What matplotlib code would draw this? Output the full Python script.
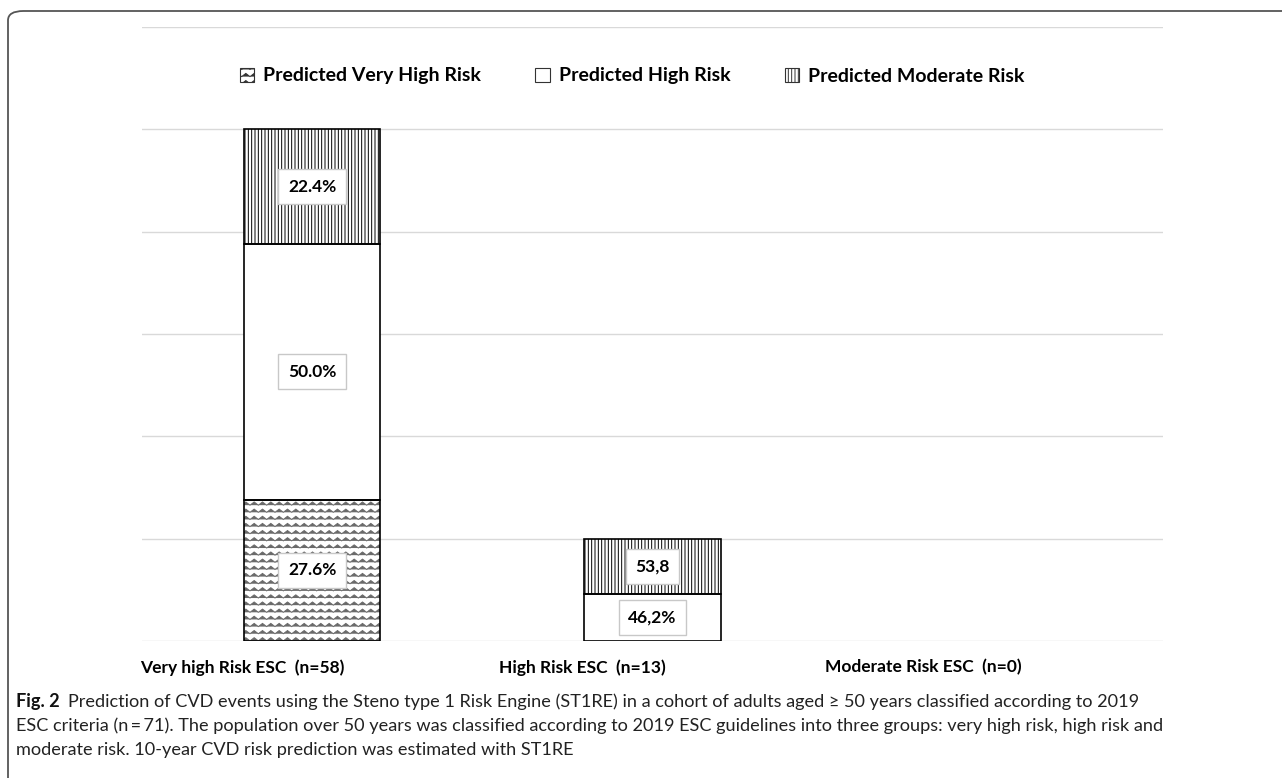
import numpy as np
import matplotlib
matplotlib.use("Agg")
import matplotlib.pyplot as plt
from matplotlib import hatch as mhatch
from matplotlib.path import Path
from matplotlib.patches import Patch, FancyBboxPatch
from matplotlib.transforms import ScaledTranslation
from matplotlib import font_manager as fm

# ---------------- data ----------------
categories = ["Very high Risk ESC  (n=58)", "High Risk ESC  (n=13)", "Moderate Risk ESC  (n=0)"]
series_names = ["Predicted Very High Risk", "Predicted High Risk", "Predicted Moderate Risk"]
very_high = [27.6, 0.0, 0.0]
high = [50.0, 9.2, 0.0]
moderate = [22.4, 10.8, 0.0]
labels_very_high = ["27.6%", "", ""]
labels_high = ["50.0%", "46,2%", ""]
labels_moderate = ["22.4%", "53,8", ""]
yticks = [0, 20, 40, 60, 80, 100, 120]

caption_bold = "Fig. 2"
caption_lines = [
    "Prediction of CVD events using the Steno type 1 Risk Engine (ST1RE) in a cohort of adults aged \u2265 50 years classified according to 2019",
    "ESC criteria (n\u2009=\u200971). The population over 50 years was classified according to 2019 ESC guidelines into three groups: very high risk, high risk and",
    "moderate risk. 10-year CVD risk prediction was estimated with ST1RE",
]


# ---------------- custom zigzag hatch (replaces '*') ----------------
class ZigZag(mhatch.HatchPatternBase):
    def __init__(self, hatch, density):
        self.rows = 14 if hatch.count('*') > 0 else 0
        self.teeth = 12
        self.num_vertices = self.rows * (2 * self.teeth + 1)

    def set_vertices_and_codes(self, vertices, codes):
        k = 2 * self.teeth + 1
        xs = np.linspace(0, 1, k)
        amp = 0.016
        idx = 0
        for i in range(self.rows):
            y0 = (i + 0.5) / self.rows
            ys = y0 + np.where(np.arange(k) % 2 == 0, -amp, amp)
            vertices[idx:idx + k, 0] = xs
            vertices[idx:idx + k, 1] = ys
            codes[idx] = Path.MOVETO
            codes[idx + 1:idx + k] = Path.LINETO
            idx += k


mhatch._hatch_types = [ZigZag if c is mhatch.Stars else c for c in mhatch._hatch_types]


def pick(names):
    for n in names:
        try:
            fm.findfont(fm.FontProperties(family=n), fallback_to_default=False)
            return n
        except Exception:
            pass
    return "DejaVu Sans"


chart_font = pick(["Lato", "Open Sans", "DejaVu Sans"])
cap_font = pick(["Liberation Sans Narrow", "Lato", "DejaVu Sans"])

plt.rcParams['font.family'] = [chart_font, 'DejaVu Sans']
plt.rcParams['hatch.linewidth'] = 0.7

W, H = 1282, 778
fig = plt.figure(figsize=(W / 100, H / 100), dpi=100)
fig.patch.set_facecolor("white")

# outer rounded frame
frame = FancyBboxPatch((8 / W, -0.2), 1.3, (H - 11) / H + 0.2,
                       boxstyle="round,pad=0,rounding_size=0.012",
                       transform=fig.transFigure, facecolor="none",
                       edgecolor="#555555", linewidth=1.3)
fig.add_artist(frame)

ax = fig.add_axes([142 / W, (H - 641) / H, 1021 / W, 614 / H])
x = np.arange(len(categories))
ax.set_xlim(-0.5, len(categories) - 0.5)
ax.set_ylim(0, 120)
ax.set_yticks(yticks)
ax.yaxis.grid(True, color="#d9d9d9", linewidth=1.0)
ax.set_axisbelow(True)
for s in ax.spines.values():
    s.set_visible(False)
ax.tick_params(axis="y", left=False, labelleft=False)
ax.tick_params(axis="x", bottom=False, pad=9.5)
ax.set_xticks(x)
ax.set_xticklabels(categories, fontsize=12.5, fontweight="bold")
off = ScaledTranslation(-0.70, 0, fig.dpi_scale_trans)
for lab in ax.get_xticklabels():
    lab.set_transform(lab.get_transform() + off)

width = 0.4
hatches = ["*", "", "|||||"]
hatch_colors = ["#6a6a6a", "black", "black"]
bottom = np.zeros(len(categories))
for vals, labs, hat, hc in zip([very_high, high, moderate],
                               [labels_very_high, labels_high, labels_moderate], hatches, hatch_colors):
    vals = np.array(vals)
    mask = vals > 0
    # hatch layer (edge colour drives hatch colour)
    ax.bar(x[mask], vals[mask], width, bottom=bottom[mask], color="white",
           edgecolor=hc, linewidth=0, hatch=hat, zorder=2)
    # black outline
    ax.bar(x[mask], vals[mask], width, bottom=bottom[mask], fill=False,
           edgecolor="black", linewidth=1.2, zorder=3)
    for xi, v, b, t in zip(x, vals, bottom, labs):
        if v > 0 and t:
            ax.text(xi, b + v / 2, t, ha="center", va="center", fontsize=12.5,
                    fontweight="bold", zorder=4,
                    bbox=dict(boxstyle="square,pad=0.55", facecolor="white",
                              edgecolor="#c8c8c8", linewidth=1.0))
    bottom = bottom + vals

handles = [Patch(facecolor="white", edgecolor="#333333", hatch=h, linewidth=0.8) for h in hatches]
fig.legend(handles, series_names, loc="center", bbox_to_anchor=(632 / W, 1 - 76 / H),
           ncol=3, frameon=False, prop=dict(family=[chart_font, 'DejaVu Sans'], weight="bold", size=14),
           handlelength=0.75, handleheight=0.75, handletextpad=0.45, columnspacing=2.8)

# caption
cap_size = 13.1
ys = [702, 726, 750]
t0 = fig.text(16 / W, 1 - ys[0] / H, caption_bold, fontsize=cap_size, fontweight="bold",
              family=[cap_font, 'DejaVu Sans'], va="center", ha="left", color="#111111")
fig.canvas.draw()
bb = t0.get_window_extent()
fig.text((bb.x1 + 8) / W, 1 - ys[0] / H, caption_lines[0], fontsize=cap_size,
         family=[cap_font, 'DejaVu Sans'], va="center", ha="left", color="#222222")
for yy, line in zip(ys[1:], caption_lines[1:]):
    fig.text(16 / W, 1 - yy / H, line, fontsize=cap_size, family=[cap_font, 'DejaVu Sans'],
             va="center", ha="left", color="#222222")

fig.savefig("out.png", dpi=100)
